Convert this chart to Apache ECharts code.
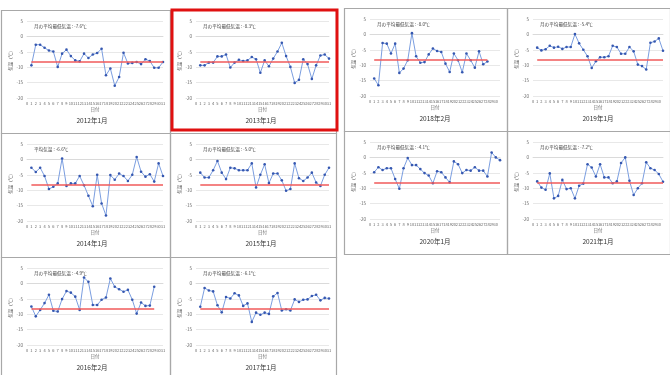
<!DOCTYPE html>
<html>
<head>
<meta charset="utf-8">
<script src="https://cdn.jsdelivr.net/npm/echarts@6/dist/echarts.min.js"></script>
<style>
  html, body { margin: 0; padding: 0; background: #fff; }
  #chart { width: 670px; height: 375px; }
</style>
</head>
<body>
<div id="chart"></div>
<script>
// Daily minimum temperatures (℃), one array per month
const t2012_01 = [-9.4,-2.7,-2.7,-3.7,-4.6,-4.9,-9.9,-5.6,-4.3,-6.4,-7.8,-8.1,-5.6,-7.0,-5.9,-5.4,-4.0,-12.6,-10.4,-16.0,-13.2,-5.3,-8.8,-8.6,-8.3,-9.0,-7.4,-8.0,-10.2,-10.2,-8.3];
const t2013_01 = [-9.4,-9.4,-8.5,-8.5,-6.5,-6.5,-5.9,-10.1,-8.5,-7.6,-8.0,-7.8,-6.7,-7.4,-11.8,-7.8,-9.7,-7.2,-4.9,-2.1,-6.4,-9.9,-15.1,-14.1,-7.4,-9.0,-13.8,-9.4,-6.2,-5.9,-7.2];
const t2018_02 = [-14.3,-16.5,-2.8,-3.0,-6.2,-3.0,-12.5,-11.1,-8.4,0.4,-7.1,-9.2,-9.0,-6.5,-4.6,-5.4,-5.7,-9.5,-12.2,-6.2,-8.4,-12.3,-6.2,-8.4,-10.8,-5.5,-9.7,-8.8];
const t2019_01 = [-4.3,-5.2,-4.8,-3.7,-4.3,-4.0,-4.7,-4.1,-4.1,0.1,-2.9,-5.0,-7.1,-10.9,-8.7,-7.4,-7.4,-7.1,-3.7,-4.1,-6.3,-6.3,-4.1,-5.5,-9.8,-10.3,-11.4,-2.7,-2.3,-1.3,-5.3];
const t2014_01 = [-2.7,-4.1,-2.7,-5.4,-9.6,-8.9,-7.8,0.3,-8.6,-7.8,-7.8,-5.4,-8.4,-11.8,-15.2,-5.0,-14.3,-18.2,-5.1,-6.6,-4.6,-5.4,-7.0,-5.0,0.8,-4.0,-5.6,-4.8,-7.2,-1.3,-5.4];
const t2015_01 = [-4.3,-5.9,-5.9,-3.5,-0.5,-4.3,-6.4,-2.7,-2.9,-3.5,-3.5,-3.5,-1.3,-9.1,-5.0,-1.6,-7.7,-4.6,-4.6,-6.8,-10.2,-9.6,-1.3,-6.1,-7.0,-5.9,-4.3,-7.5,-8.6,-5.0,-2.7];
const t2020_01 = [-4.8,-3.2,-4.1,-3.5,-3.5,-7.0,-10.2,-3.5,-0.2,-2.5,-2.5,-3.8,-5.1,-5.9,-8.4,-4.5,-4.8,-6.5,-8.1,-1.3,-2.2,-5.1,-4.1,-4.3,-3.2,-4.3,-4.3,-6.2,1.6,0.0,-0.9];
const t2021_01 = [-7.8,-9.8,-10.5,-5.2,-13.3,-12.5,-7.3,-10.3,-10.0,-13.3,-9.2,-8.5,-2.2,-3.3,-6.2,-2.2,-6.5,-6.5,-8.4,-7.8,-1.8,0.0,-7.6,-12.2,-10.0,-8.4,-1.6,-3.5,-4.1,-5.4,-7.9];
const t2016_02 = [-7.5,-10.7,-8.6,-6.4,-3.7,-8.9,-9.1,-5.1,-2.5,-3.0,-4.3,-8.6,1.9,0.5,-7.0,-7.0,-5.3,-4.6,1.6,-1.1,-1.9,-2.7,-2.1,-5.3,-9.8,-6.2,-7.3,-7.2,-1.1];
const t2017_01 = [-7.6,-1.5,-2.3,-2.6,-7.1,-9.4,-4.4,-4.9,-3.2,-3.9,-7.3,-6.5,-12.5,-9.5,-10.2,-9.5,-9.9,-4.2,-3.1,-8.8,-8.4,-8.8,-5.2,-6.0,-5.3,-5.2,-4.1,-3.7,-5.5,-4.7,-4.9];

// Monthly means shown in each chart's heading
const monthMeans = [-7.6, -8.3, -8.0, -5.4, -6.6, -5.0, -4.1, -7.2, -4.9, -6.1];
const captions = ['2012年1月','2013年1月','2018年2月','2019年1月','2014年1月','2015年1月','2020年1月','2021年1月','2016年2月','2017年1月'];
const headings = ['月の平均最低気温','月の平均最低気温','月の平均最低気温','月の平均最低気温','平均気温','月の平均最低気温','月の平均最低気温','月の平均最低気温','月の平均最低気温','月の平均最低気温'];
const series = [t2012_01, t2013_01, t2018_02, t2019_01, t2014_01, t2015_01, t2020_01, t2021_01, t2016_02, t2017_01];

// Reference (normal) minimum temperature
const NORMAL = -8.3;

// y axis ticks
const Y_MIN = -20, Y_MAX = 5, Y_STEP = 5;

// Cell rectangles of the two tables [x, y, w, h]
const cells = [
  [1, 10, 169, 123], [170, 10, 166, 123], [344, 8, 163, 123], [507, 8, 163, 123],
  [1, 133, 169, 124], [170, 133, 166, 124], [344, 131, 163, 123], [507, 131, 163, 123],
  [1, 257, 169, 124], [170, 257, 166, 124]
];

const FONT = '"Noto Sans CJK JP", "Noto Sans", sans-serif';
const grid = [], xAxis = [], yAxis = [], seriesOpt = [], titles = [], graphics = [];

cells.forEach((c, i) => {
  const [x, y, w, h] = c;
  graphics.push({
    type: 'rect', shape: { x: x + 0.5, y: y + 0.5, width: w, height: h },
    style: { fill: 'none', stroke: '#a8a8a8', lineWidth: 1.2 }, z: 1
  });
  grid.push({ left: x + 26, top: y + 11, width: w - 33, height: 77 });
  xAxis.push({
    gridIndex: i, type: 'value', min: 0, max: 31, interval: 1,
    axisLabel: { fontSize: 4, margin: 3, color: '#666', fontFamily: FONT },
    axisLine: { show: true, lineStyle: { color: '#d6d6d6', width: 0.8 } },
    axisTick: { show: false }, splitLine: { show: false },
    name: '日付', nameLocation: 'middle', nameGap: 9,
    nameTextStyle: { fontSize: 4.5, color: '#666', fontFamily: FONT }
  });
  yAxis.push({
    gridIndex: i, type: 'value', min: Y_MIN, max: Y_MAX, interval: Y_STEP,
    axisLabel: { fontSize: 4.5, margin: 4, color: '#666', fontFamily: FONT },
    axisLine: { show: false }, axisTick: { show: false },
    splitLine: { lineStyle: { color: '#e2e2e2', width: 0.8 } },
    name: '気温（℃）', nameLocation: 'middle', nameGap: 11, nameRotate: 90,
    nameTextStyle: { fontSize: 4.5, color: '#555', fontFamily: FONT }
  });
  const vals = series[i];
  seriesOpt.push({
    type: 'line', xAxisIndex: i, yAxisIndex: i,
    data: vals.map((v, d) => [d + 1, v]),
    symbol: 'circle', symbolSize: 2.6, showSymbol: true,
    lineStyle: { color: '#7b9ee0', width: 1 },
    itemStyle: { color: '#3557b0' },
    animation: false, z: 3,
    markLine: {
      silent: true, symbol: 'none', label: { show: false },
      lineStyle: { color: '#f05a5a', width: 1.6, type: 'solid' },
      data: [[{ coord: [1, NORMAL] }, { coord: [vals.length, NORMAL] }]],
      animation: false
    }
  });
  titles.push({
    text: headings[i] + ' : ' + monthMeans[i].toFixed(1) + '℃',
    left: x + 33, top: y + 14, padding: 0,
    textStyle: { fontSize: 4.6, fontWeight: 'normal', color: '#444', fontFamily: FONT }
  });
  titles.push({
    text: captions[i], left: x + 91, top: y + 107, padding: 0, textAlign: 'center',
    textStyle: { fontSize: 6.5, fontWeight: 'normal', color: '#333', fontFamily: FONT }
  });
});

// Highlight frame around the 2013年1月 chart
graphics.push({
  type: 'rect', shape: { x: 172, y: 10, width: 165, height: 120 },
  style: { fill: 'none', stroke: '#e01010', lineWidth: 3 }, z: 10
});

const chart = echarts.init(document.getElementById('chart'), null, { renderer: 'canvas' });
chart.setOption({
  animation: false,
  backgroundColor: '#fff',
  title: titles,
  grid: grid,
  xAxis: xAxis,
  yAxis: yAxis,
  series: seriesOpt,
  graphic: graphics
});
</script>
</body>
</html>
